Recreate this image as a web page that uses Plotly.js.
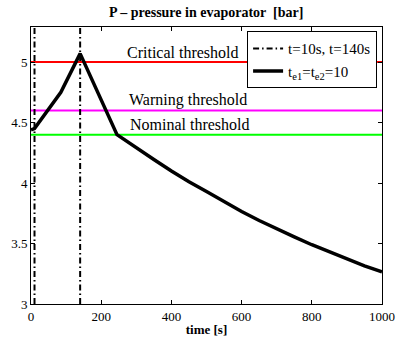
<!DOCTYPE html>
<html><head><meta charset="utf-8">
<script src="https://cdn.plot.ly/plotly-3.0.1.min.js"></script>
<style>body{margin:0;background:#fff}#g{width:398px;height:344px}</style>
</head><body><div id="g"></div>
<script>
// Data
const timeS = [0, 10, 85, 140, 245, 300, 350, 400, 450, 500, 550, 600, 650, 700, 750, 800, 850, 900, 950, 1000];
const pressure = [4.44, 4.45, 4.75, 5.07, 4.40, 4.29, 4.195, 4.10, 4.01, 3.93, 3.845, 3.765, 3.69, 3.62, 3.555, 3.49, 3.43, 3.37, 3.315, 3.265];
const eventTimes = [10, 140];
const thresholdNames = ["Critical threshold", "Warning threshold", "Nominal threshold"];
const thresholdValues = [5.0, 4.6, 4.4];
const thresholdColors = ["#ff0000", "#ff00ff", "#00ff00"];
const labelTimes = [434, 446, 453];
const xRange = [0, 1000];
const yRange = [3, 5.29];

const FONT = 'Liberation Serif';

const traces = [];
thresholdValues.forEach((v, i) => {
  traces.push({x: xRange, y: [v, v], mode: 'lines', line: {color: thresholdColors[i], width: 2}, showlegend: false, hoverinfo: 'skip'});
});
const vx = [], vy = [];
eventTimes.forEach(t => { vx.push(t, t, null); vy.push(yRange[0], yRange[1], null); });
traces.push({x: vx, y: vy, mode: 'lines', name: 't=10s, t=140s', line: {color: '#000', width: 2, dash: '6px,3px,1.5px,3px'}});
traces.push({x: timeS, y: pressure, mode: 'lines', name: 't<sub>e1</sub>=t<sub>e2</sub>=10', line: {color: '#000', width: 3.5}});

const annotations = thresholdNames.map((n, i) => ({
  x: labelTimes[i], y: thresholdValues[i], yshift: 10, xref: 'x', yref: 'y',
  text: n, showarrow: false, font: {family: FONT, size: 16, color: '#000'}
}));

const axisCommon = {showgrid: false, zeroline: false, showline: true, linecolor: '#000', linewidth: 1, mirror: 'ticks', ticks: 'inside', ticklen: 4, tickcolor: '#000', tickfont: {family: FONT, size: 13, color: '#000'}};

Plotly.newPlot('g', traces, {
  width: 398, height: 344,
  margin: {l: 31, r: 16, t: 27, b: 40},
  paper_bgcolor: '#fff', plot_bgcolor: '#fff',
  title: {text: '<b>P – pressure in evaporator  [bar]</b>', font: {family: FONT, size: 14, color: '#000'}, x: 0.518, xanchor: 'center', y: 0.965, yanchor: 'middle'},
  xaxis: Object.assign({}, axisCommon, {range: xRange, tickvals: [0,200,400,600,800,1000], ticklabelstandoff: 0,
    title: {text: '<b>time [s]</b>', font: {family: FONT, size: 13, color: '#000'}, standoff: 2}}),
  yaxis: Object.assign({}, axisCommon, {range: yRange, tickvals: [3,3.5,4,4.5,5], ticktext: ['3','3.5','4','4.5','5']}),
  legend: {x: 0.986, xanchor: 'right', y: 0.985, yanchor: 'top', bgcolor: '#fff', bordercolor: '#000', borderwidth: 1,
    font: {family: FONT, size: 15, color: '#000'}, tracegroupgap: 0, itemwidth: 30},
  annotations: annotations,
  showlegend: true
}, {staticPlot: true});
</script></body></html>
